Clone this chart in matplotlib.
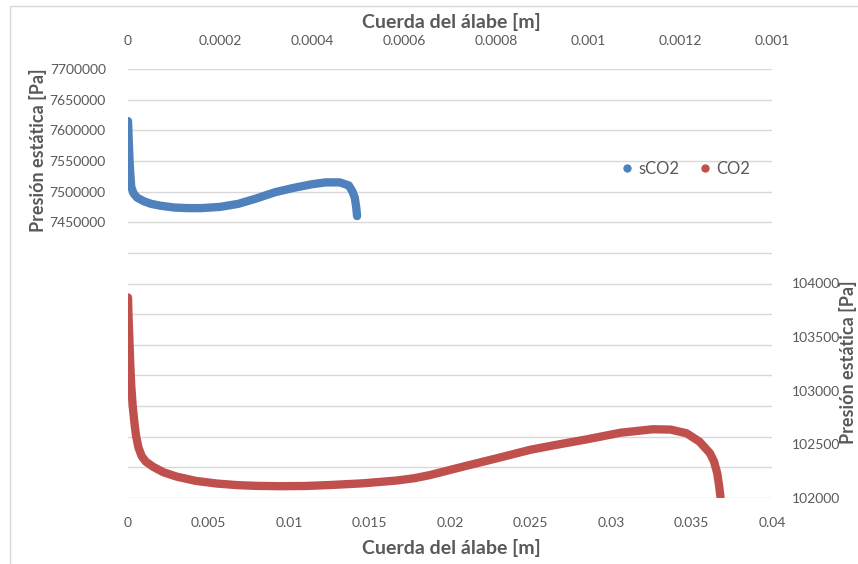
import matplotlib
matplotlib.use("Agg")
import matplotlib.pyplot as plt
from matplotlib.patches import Rectangle
from matplotlib.lines import Line2D
from matplotlib.ticker import FixedLocator, FuncFormatter

plt.rcParams['font.family'] = ['Lato', 'DejaVu Sans']

# sCO2 -> upper x axis (chord) and left y axis (static pressure)
sco2_x = [0, 0.000002, 0.000004, 0.000007, 0.000012, 0.00002, 0.000035, 0.00005,
          0.00007, 0.0001, 0.00013, 0.00016, 0.0002, 0.00024, 0.00028, 0.00032,
          0.00036, 0.0004, 0.00043, 0.00046, 0.00048, 0.000488, 0.000493,
          0.000496, 0.000498]
sco2_p = [7615000, 7575000, 7540000, 7508000, 7497000, 7490000, 7484000, 7480000,
          7477000, 7474000, 7473000, 7473000, 7475000, 7480000, 7489000, 7499000,
          7506000, 7512000, 7515000, 7515000, 7510000, 7500000, 7490000,
          7475000, 7460000]

# CO2 -> lower x axis and right y axis
co2_x = [0, 0.00003, 0.00008, 0.00014, 0.0002, 0.00029, 0.0004, 0.0005, 0.00065,
         0.00085, 0.0011, 0.00155, 0.0022, 0.00303, 0.0042, 0.0055, 0.0068, 0.008,
         0.0095, 0.011, 0.01255, 0.0146, 0.0167, 0.0178, 0.01876, 0.0208, 0.0229,
         0.025, 0.0264, 0.0285, 0.0306, 0.0326, 0.0337, 0.0347, 0.0355, 0.03615,
         0.0364, 0.0366, 0.0367, 0.0368]
co2_p = [103870, 103700, 103500, 103250, 103050, 102860, 102700, 102580, 102470,
         102390, 102340, 102292, 102240, 102199, 102160, 102135, 102120, 102113,
         102110, 102112, 102121, 102137, 102163, 102185, 102214, 102292, 102370,
         102450, 102490, 102547, 102609, 102641, 102638, 102603, 102525, 102417,
         102340, 102230, 102130, 102012]

top_ticks = [0, 0.0002, 0.0004, 0.0006, 0.0008, 0.001, 0.0012, 0.0014]
top_labels = ["0", "0.0002", "0.0004", "0.0006", "0.0008", "0.001", "0.0012", "0.001"]
bottom_ticks = [0, 0.005, 0.01, 0.015, 0.02, 0.025, 0.03, 0.035, 0.04]
bottom_labels = ["0", "0.005", "0.01", "0.015", "0.02", "0.025", "0.03", "0.035", "0.04"]
left_ticks = list(range(7000000, 7700001, 50000))
right_ticks = list(range(102000, 106001, 500))

BLUE = '#4f81bd'
RED = '#c0504d'
TXT = '#595959'
GRID = '#d9d9d9'

W, H = 858, 564
fig = plt.figure(figsize=(W / 100, H / 100), dpi=100)

# chart area frame
fig.patches.append(Rectangle((10 / W, -0.1), 1.0, 1.1 - 6 / H, transform=fig.transFigure,
                             fill=False, edgecolor=GRID, linewidth=1))

rect = [128 / W, 66 / H, 644 / W, 429 / H]
ax = fig.add_axes(rect)
ax_r = fig.add_axes(rect, facecolor='none')

# upper / left axes (sCO2)
ax.plot(sco2_x, sco2_p, color=BLUE, lw=6, solid_capstyle='round',
        solid_joinstyle='round', zorder=3)
ax.set_xlim(0, 0.0014)
ax.set_ylim(7000000, 7700000)
ax.xaxis.tick_top()
ax.xaxis.set_major_locator(FixedLocator(top_ticks))
ax.set_xticklabels(top_labels)
ax.yaxis.set_major_locator(FixedLocator(left_ticks))
ax.yaxis.set_major_formatter(FuncFormatter(lambda v, p: f"{v:.0f}" if v >= 7450000 else ""))
ax.grid(axis='y', color=GRID, lw=1)
ax.set_axisbelow(True)

# lower / right axes (CO2)
ax_r.plot(co2_x, co2_p, color=RED, lw=6, solid_capstyle='round',
          solid_joinstyle='round', zorder=3)
ax_r.set_xlim(0, 0.04)
ax_r.set_ylim(102000, 106000)
ax_r.xaxis.tick_bottom()
ax_r.yaxis.tick_right()
ax_r.xaxis.set_major_locator(FixedLocator(bottom_ticks))
ax_r.set_xticklabels(bottom_labels)
ax_r.yaxis.set_major_locator(FixedLocator(right_ticks))
ax_r.yaxis.set_major_formatter(FuncFormatter(lambda v, p: f"{v:.0f}" if v <= 104000 else ""))

for a in (ax, ax_r):
    for s in a.spines.values():
        s.set_visible(False)
    a.tick_params(length=0, labelsize=10, labelcolor=TXT)
ax.tick_params(axis='x', pad=16)
ax.tick_params(axis='y', pad=16)
ax_r.tick_params(axis='x', pad=14)
ax_r.tick_params(axis='y', pad=14)

title_kw = dict(fontweight='bold', color=TXT)
fig.text(451 / W, 1 - 22 / H, "Cuerda del álabe [m]", ha='center', va='center',
         fontsize=14, **title_kw)
fig.text(451 / W, 1 - 548 / H, "Cuerda del álabe [m]", ha='center', va='center',
         fontsize=14, **title_kw)
fig.text(38 / W, 1 - 150 / H, "Presión estática [Pa]", ha='center', va='center',
         rotation=90, fontsize=13, **title_kw)
fig.text(857 / W, 1 - 362 / H, "Presión estática [Pa]", ha='right', va='center',
         rotation=90, fontsize=13, **title_kw)

handles = [Line2D([], [], ls='none', marker='o', ms=5, color=BLUE, label='sCO2'),
           Line2D([], [], ls='none', marker='o', ms=5, color=RED, label='CO2')]
fig.legend(handles=handles, loc='center', bbox_to_anchor=(686 / W, 1 - 169 / H),
           ncol=2, frameon=False, fontsize=12, labelcolor=TXT, handlelength=0.6,
           handletextpad=0.4, columnspacing=1.2)

fig.savefig("out.png", dpi=100)
